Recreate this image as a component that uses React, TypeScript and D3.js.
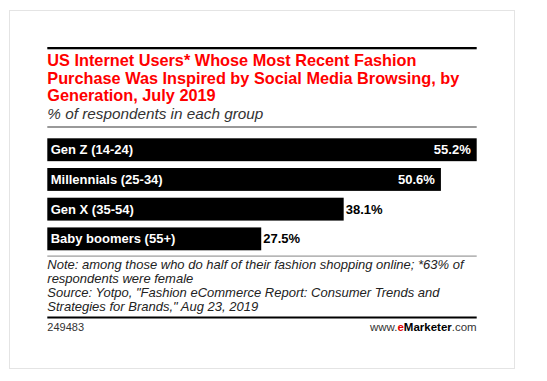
import React from "react";
import * as d3 from "d3";

const categories = ["Gen Z (14-24)", "Millennials (25-34)", "Gen X (35-54)", "Baby boomers (55+)"];
const values = [55.2, 50.6, 38.1, 27.5];
const titleLines = [
  "US Internet Users* Whose Most Recent Fashion",
  "Purchase Was Inspired by Social Media Browsing, by",
  "Generation, July 2019",
];
const subtitle = "% of respondents in each group";
const noteLines = [
  "Note: among those who do half of their fashion shopping online; *63% of",
  "respondents were female",
  "Source: Yotpo, \"Fashion eCommerce Report: Consumer Trends and",
  "Strategies for Brands,\" Aug 23, 2019",
];
const chartId = "249483";

const W = 547;
const H = 381;
const left = 47.3;
const right = 476.7;
const font = "'Liberation Sans', Arial, sans-serif";

export default function App() {
  const x = d3.scaleLinear().domain([0, d3.max(values) as number]).range([left, right]);
  const y = d3
    .scaleBand<string>()
    .domain(categories)
    .range([138.3, 138.3 + 28 * 4])
    .paddingInner(0.23)
    .paddingOuter(0);

  return (
    <svg
      width={W}
      height={H}
      style={{ position: "absolute", left: 0, top: 0, background: "#fff" }}
      fontFamily={font}
    >
      <rect x={9.5} y={10.5} width={505} height={358} fill="#fff" stroke="#e4e4e4" strokeWidth={1} />
      <rect x={left} y={47} width={right - left} height={2.3} fill="#000" />
      {titleLines.map((t, i) => (
        <text key={i} x={left} y={66 + i * 17.5} fill="#ff0000" fontWeight="bold" fontSize={16.3}>
          {t}
        </text>
      ))}
      <text x={left} y={119} fill="#333" fontStyle="italic" fontSize={15.3}>
        {subtitle}
      </text>
      <rect x={left} y={126} width={right - left} height={2} fill="#999" />

      {categories.map((c, i) => {
        const v = values[i];
        const yy = y(c) as number;
        const bw = y.bandwidth();
        const xe = x(v);
        const inside = v > 45;
        return (
          <g key={c}>
            <rect x={left} y={yy} width={xe - left} height={bw} fill="#000" />
            <text x={50.7} y={yy + bw / 2 + 4.6} fill="#fff" fontWeight="bold" fontSize={13}>
              {c}
            </text>
            <text
              x={inside ? xe - 6 : xe + 2}
              y={yy + bw / 2 + 4.6}
              fill={inside ? "#fff" : "#000"}
              fontWeight="bold"
              fontSize={13}
              textAnchor={inside ? "end" : "start"}
            >
              {v.toFixed(1)}%
            </text>
          </g>
        );
      })}

      <rect x={left} y={255.5} width={right - left} height={1.2} fill="#999" />
      {noteLines.map((t, i) => (
        <text key={i} x={left} y={269.3 + i * 14} fill="#222" fontStyle="italic" fontSize={13}>
          {t}
        </text>
      ))}
      <rect x={left} y={316.5} width={right - left} height={2} fill="#000" />
      <text x={left} y={331} fill="#333" fontSize={11}>
        {chartId}
      </text>
      <text x={right} y={331} fontSize={11.5} textAnchor="end" fill="#333">
        <tspan>www.</tspan>
        <tspan fill="#e00000" fontWeight="bold">e</tspan>
        <tspan fill="#000" fontWeight="bold">Marketer</tspan>
        <tspan>.com</tspan>
      </text>
    </svg>
  );
}
